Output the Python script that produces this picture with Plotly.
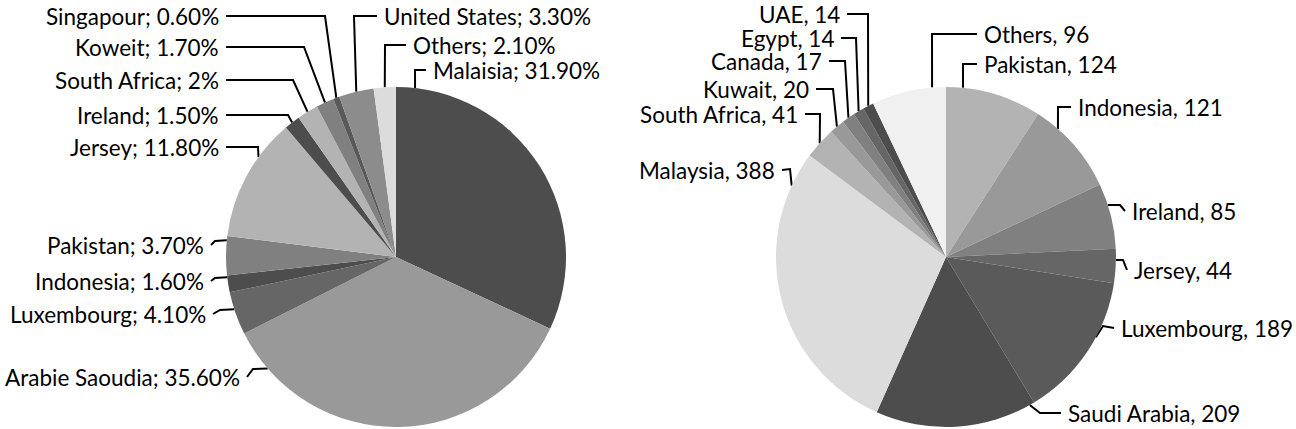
import numpy as np
import plotly.graph_objects as go

W, H = 1296, 429

# left pie: share by country (%)
left_countries = ["Malaisia", "Arabie Saoudia", "Luxembourg", "Indonesia", "Pakistan", "Jersey",
                  "Ireland", "South Africa", "Koweit", "Singapour", "United States", "Others"]
left_share = [31.9, 35.6, 4.1, 1.6, 3.7, 11.8, 1.5, 2.0, 1.7, 0.6, 3.3, 2.1]
left_share_text = ["31.90%", "35.60%", "4.10%", "1.60%", "3.70%", "11.80%",
                   "1.50%", "2%", "1.70%", "0.60%", "3.30%", "2.10%"]

# right pie: number of issues by country
right_countries = ["Pakistan", "Indonesia", "Ireland", "Jersey", "Luxembourg", "Saudi Arabia",
                   "Malaysia", "South Africa", "Kuwait", "Canada", "Egypt", "UAE", "Others"]
right_count = [124, 121, 85, 44, 189, 209, 388, 41, 20, 17, 14, 14, 96]

left_colors = ["#4d4d4d", "#999999", "#666666", "#4d4d4d", "#808080", "#b3b3b3",
               "#4d4d4d", "#b3b3b3", "#808080", "#595959", "#8c8c8c", "#dcdcdc"]
right_colors = ["#b3b3b3", "#999999", "#808080", "#666666", "#5a5a5a", "#4d4d4d",
                "#dcdcdc", "#b3b3b3", "#999999", "#808080", "#666666", "#4d4d4d", "#f0f0f0"]

# label placement in pixels: text x, text y, side of the line, elbow x, elbow y, where on the slice the line lands
left_lbl = [
    (432, 70, "l", 415, 70, 0.056),
    (241, 377, "r", 253, 369, 0.889),
    (207, 314, "r", 220, 310, 0.6),
    (205, 281, "r", 215, 278, 0.89),
    (205, 245, "r", 215, 241, 0.89),
    (220, 147, "r", 258, 147, 0.68),
    (220, 115, "r", 288, 115, 0.5),
    (220, 80, "r", 293, 80, 0.5),
    (220, 47, "r", 304, 47, 0.5),
    (220, 16, "r", 325, 16, 0.5),
    (383, 16, "l", 354, 16, 0.5),
    (412, 45, "l", 385, 45, 0.5),
]
right_lbl = [
    (983, 64, "l", 963, 64, 0.175),
    (1077, 107, "l", 1058, 107, 0.263),
    (1131, 211, "l", 1120, 205, 0.33),
    (1133, 270, "l", 1123, 260, 0.325),
    (1120, 328, "l", 1103, 326, 0.387),
    (1067, 413, "l", 1040, 413, 0.03),
    (776, 170, "r", 790, 169, 0.885),
    (799, 114, "r", 820, 114, 0.5),
    (810, 89, "r", 833, 89, 0.5),
    (823, 61, "r", 845, 61, 0.5),
    (835, 38, "r", 856, 38, 0.5),
    (841, 14, "r", 868, 14, 0.5),
    (983, 34, "l", 932, 34, 0.815),
]

R = 170
CY = 257
FONT = dict(family="Lato, Calibri, sans-serif", size=22.5, color="black")

fig = go.Figure()
annotations = []


def add_pie(cx, values, texts, colors, lbl):
    fig.add_trace(go.Pie(
        values=values, sort=False, direction="clockwise", rotation=0,
        marker=dict(colors=colors, line=dict(width=0)),
        textinfo="none", hoverinfo="skip",
        domain=dict(x=[(cx - R) / W, (cx + R) / W], y=[(H - CY - R) / H, (H - CY + R) / H]),
    ))
    cum = np.concatenate([[0], np.cumsum(values)]) / np.sum(values) * 360
    xs, ys = [], []
    for i, (tx, ty, side, ex, ey, frac) in enumerate(lbl):
        a = np.radians(cum[i] + frac * (cum[i + 1] - cum[i]))
        px, py = cx + R * np.sin(a), CY - R * np.cos(a)
        sx = tx + 6 if side == "r" else tx - 6
        xs += [sx, ex, px, None]
        ys += [ty, ey, py, None]
        annotations.append(dict(x=tx, y=ty, xref="x", yref="y", text=texts[i], showarrow=False,
                                xanchor="right" if side == "r" else "left", yanchor="middle",
                                font=FONT, borderpad=0))
    fig.add_trace(go.Scatter(x=xs, y=ys, mode="lines", line=dict(color="black", width=2),
                             hoverinfo="skip"))


add_pie(396, left_share, [f"{c}; {t}" for c, t in zip(left_countries, left_share_text)],
        left_colors, left_lbl)
add_pie(946, right_count, [f"{c}, {v}" for c, v in zip(right_countries, right_count)],
        right_colors, right_lbl)

fig.update_layout(
    width=W, height=H,
    margin=dict(l=0, r=0, t=0, b=0),
    paper_bgcolor="white", plot_bgcolor="rgba(0,0,0,0)",
    showlegend=False,
    xaxis=dict(range=[0, W], visible=False, domain=[0, 1]),
    yaxis=dict(range=[H, 0], visible=False, domain=[0, 1]),
    annotations=annotations,
)

# page body has a default 8px margin; drop it so the figure sits at the top-left corner
fig.write_html("out.html", config={"displayModeBar": False},
               post_script="document.body.style.margin='0';")
